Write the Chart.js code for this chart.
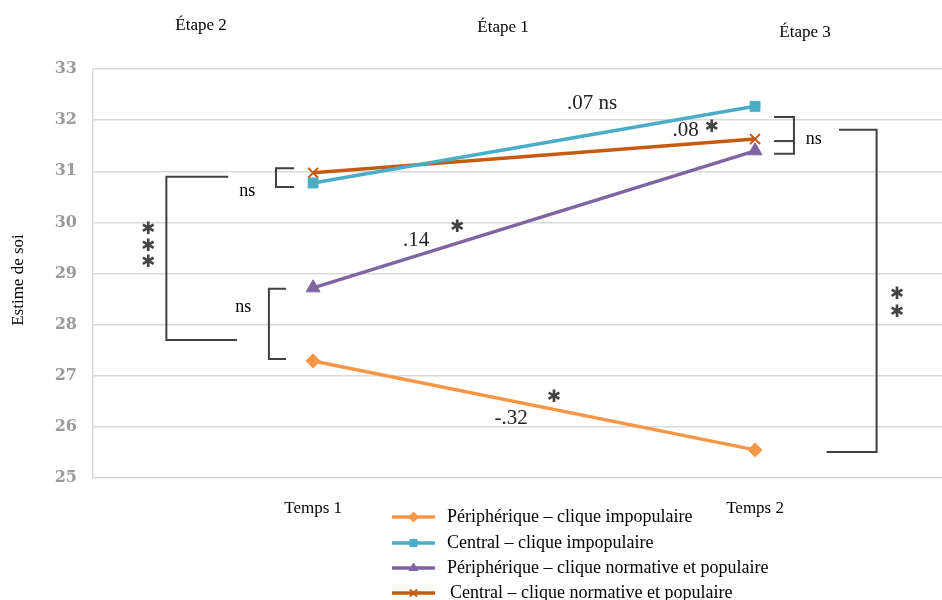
<!DOCTYPE html>
<html>
<head>
<meta charset="utf-8">
<script src="https://cdn.jsdelivr.net/npm/chart.js@4/dist/chart.umd.min.js"></script>
<style>
  html, body { margin: 0; padding: 0; background: #ffffff; overflow: hidden; }
  #wrap { position: relative; width: 942px; height: 600px; overflow: hidden; }
  canvas { display: block; }
</style>
</head>
<body>
<div id="wrap"><canvas id="c" width="951" height="600"></canvas></div>
<script>
// ---- Data ----
const categories = ['Temps 1', 'Temps 2'];
const seriesLabels = [
  'Périphérique – clique impopulaire',
  'Central – clique impopulaire',
  'Périphérique – clique normative et populaire',
  'Central – clique normative et populaire'
];
const periphImpopulaire = [27.29, 25.55];
const centralImpopulaire = [30.77, 32.27];
const periphNormPopulaire = [28.72, 31.40];
const centralNormPopulaire = [30.97, 31.63];
const yTicks = [25, 26, 27, 28, 29, 30, 31, 32, 33];
const stageLabels = ['Étape 2', 'Étape 1', 'Étape 3'];
const slopeLabels = ['.07 ns', '.08', '.14', '-.32'];
const yTitle = 'Estime de soi';

// ---- Styles ----
const colors = ['#F79646', '#4BACC6', '#8064A2', '#C55A11'];
const styles = ['rectRot', 'rect', 'triangle', 'crossRot'];
const SERIF = '"Liberation Serif", "Times New Roman", serif';

const seriesValues = [periphImpopulaire, centralImpopulaire, periphNormPopulaire, centralNormPopulaire];

const datasets = seriesValues.map((vals, i) => ({
  label: seriesLabels[i],
  data: vals.map((v, k) => ({ x: k + 1, y: v })),
  borderColor: colors[i],
  backgroundColor: colors[i],
  pointBackgroundColor: colors[i],
  pointBorderColor: colors[i],
  pointStyle: styles[i],
  pointRadius: styles[i] === 'rect' ? 7 : (styles[i] === 'triangle' ? 8 : 7),
  pointBorderWidth: styles[i] === 'crossRot' ? 2 : 1,
  borderWidth: 3.5,
  tension: 0,
  fill: false
}));

function drawMarker(ctx, style, x, y, r, color, bw) {
  if (Chart.helpers && Chart.helpers.drawPoint) {
    ctx.save();
    ctx.fillStyle = color; ctx.strokeStyle = color; ctx.lineWidth = bw;
    Chart.helpers.drawPoint(ctx, { pointStyle: style, radius: r, rotation: 0, borderWidth: bw }, x, y);
    ctx.restore();
  }
}

const overlay = {
  id: 'overlay',
  afterDatasetsDraw(chart) {
    const ctx = chart.ctx;
    const xs = chart.scales.x, ys = chart.scales.y;
    const X = v => xs.getPixelForValue(v);
    const Y = v => ys.getPixelForValue(v);
    ctx.save();
    // brackets
    ctx.strokeStyle = '#404040';
    ctx.lineWidth = 2;
    const path = pts => {
      ctx.beginPath();
      pts.forEach((p, i) => i ? ctx.lineTo(X(p[0]), Y(p[1])) : ctx.moveTo(X(p[0]), Y(p[1])));
      ctx.stroke();
    };
    path([[0.957, 31.06], [0.916, 31.06], [0.916, 30.69], [0.957, 30.69]]);
    path([[0.808, 30.89], [0.668, 30.89], [0.668, 27.70], [0.828, 27.70]]);
    path([[0.939, 28.70], [0.900, 28.70], [0.900, 27.33], [0.939, 27.33]]);
    path([[2.043, 32.06], [2.088, 32.06], [2.088, 31.34], [2.043, 31.34]]);
    path([[2.043, 31.59], [2.088, 31.59]]);
    path([[2.190, 31.81], [2.275, 31.81], [2.275, 25.51], [2.162, 25.51]]);

    // texts
    ctx.fillStyle = '#000';
    ctx.textAlign = 'center';
    ctx.textBaseline = 'middle';
    ctx.font = '18px ' + SERIF;
    ctx.fillText('ns', X(0.851), Y(30.61));
    ctx.fillText('ns', X(0.842), Y(28.34));
    ctx.fillText('ns', X(2.133), Y(31.63));

    ctx.font = '21px ' + SERIF;
    ctx.fillStyle = '#222';
    ctx.fillText(slopeLabels[0], X(1.631), Y(32.33));
    ctx.fillText(slopeLabels[1], X(1.843), Y(31.80));
    ctx.fillText(slopeLabels[2], X(1.233), Y(29.64));
    ctx.fillText(slopeLabels[3], X(1.448), Y(26.17));

    // stars
    ctx.fillStyle = '#444';
    ctx.font = '17px "DejaVu Sans", sans-serif';
    const star = '\u2731';
    ctx.fillText(star, X(1.902), Y(31.85));
    ctx.fillText(star, X(1.326), Y(29.89));
    ctx.fillText(star, X(1.545), Y(26.58));
    [29.85, 29.52, 29.22].forEach(v => ctx.fillText(star, X(0.627), Y(v)));
    [28.58, 28.23].forEach(v => ctx.fillText(star, X(2.321), Y(v)));
    ctx.restore();
  },
  afterDraw(chart) {
    const ctx = chart.ctx;
    ctx.save();
    // y title
    ctx.fillStyle = '#000';
    ctx.font = '17px ' + SERIF;
    ctx.textAlign = 'center';
    ctx.textBaseline = 'middle';
    ctx.translate(19, 280);
    ctx.rotate(-Math.PI / 2);
    ctx.fillText(yTitle, 0, 0);
    ctx.restore();

    ctx.save();
    // stage labels
    ctx.fillStyle = '#000';
    ctx.font = '17px ' + SERIF;
    ctx.textAlign = 'center';
    ctx.textBaseline = 'middle';
    const stagePos = [[201, 26], [503, 28], [805, 33]];
    stageLabels.forEach((t, i) => ctx.fillText(t, stagePos[i][0], stagePos[i][1]));

    // legend
    const ly = [517, 543, 568, 593];
    chart.data.datasets.forEach((ds, i) => {
      const y = ly[i];
      ctx.strokeStyle = ds.borderColor;
      ctx.lineWidth = 3.5;
      ctx.beginPath(); ctx.moveTo(392, y); ctx.lineTo(435, y); ctx.stroke();
      drawMarker(ctx, ds.pointStyle, 413.5, y, 5, ds.borderColor, ds.pointStyle === 'crossRot' ? 2 : 1);
      ctx.fillStyle = '#000';
      ctx.font = '18px ' + SERIF;
      ctx.textAlign = 'left';
      ctx.textBaseline = 'middle';
      ctx.fillText(ds.label, i === 3 ? 450 : 447, y);
    });
    ctx.restore();
  }
};

new Chart(document.getElementById('c'), {
  type: 'line',
  data: { datasets },
  options: {
    responsive: false,
    animation: false,
    devicePixelRatio: 1,
    layout: { padding: { top: 69, right: 0, bottom: 0, left: 0 } },
    plugins: { legend: { display: false }, tooltip: { enabled: false } },
    scales: {
      x: {
        type: 'linear',
        min: 0.502,
        max: 2.423,
        grid: { display: false, drawTicks: false },
        border: { display: false },
        afterBuildTicks: axis => { axis.ticks = categories.map((c, i) => ({ value: i + 1 })); },
        ticks: {
          callback: v => categories[v - 1] || '',
          font: { family: SERIF, size: 17 },
          color: '#000',
          padding: 20,
          maxRotation: 0,
          autoSkip: false
        },
        afterFit: s => { s.height = 122; }
      },
      y: {
        min: 25,
        max: 33,
        afterBuildTicks: axis => { axis.ticks = yTicks.map(v => ({ value: v })); },
        ticks: {
          font: { family: '"DejaVu Serif", serif', size: 16, weight: 'bold' },
          color: '#9a9a9a',
          padding: 16
        },
        grid: { color: '#d9d9d9', lineWidth: 1.5, drawTicks: false },
        border: { display: true, color: '#d9d9d9', width: 1.5 },
        afterFit: s => { s.width = 93; }
      }
    }
  },
  plugins: [overlay]
});
</script>
</body>
</html>
